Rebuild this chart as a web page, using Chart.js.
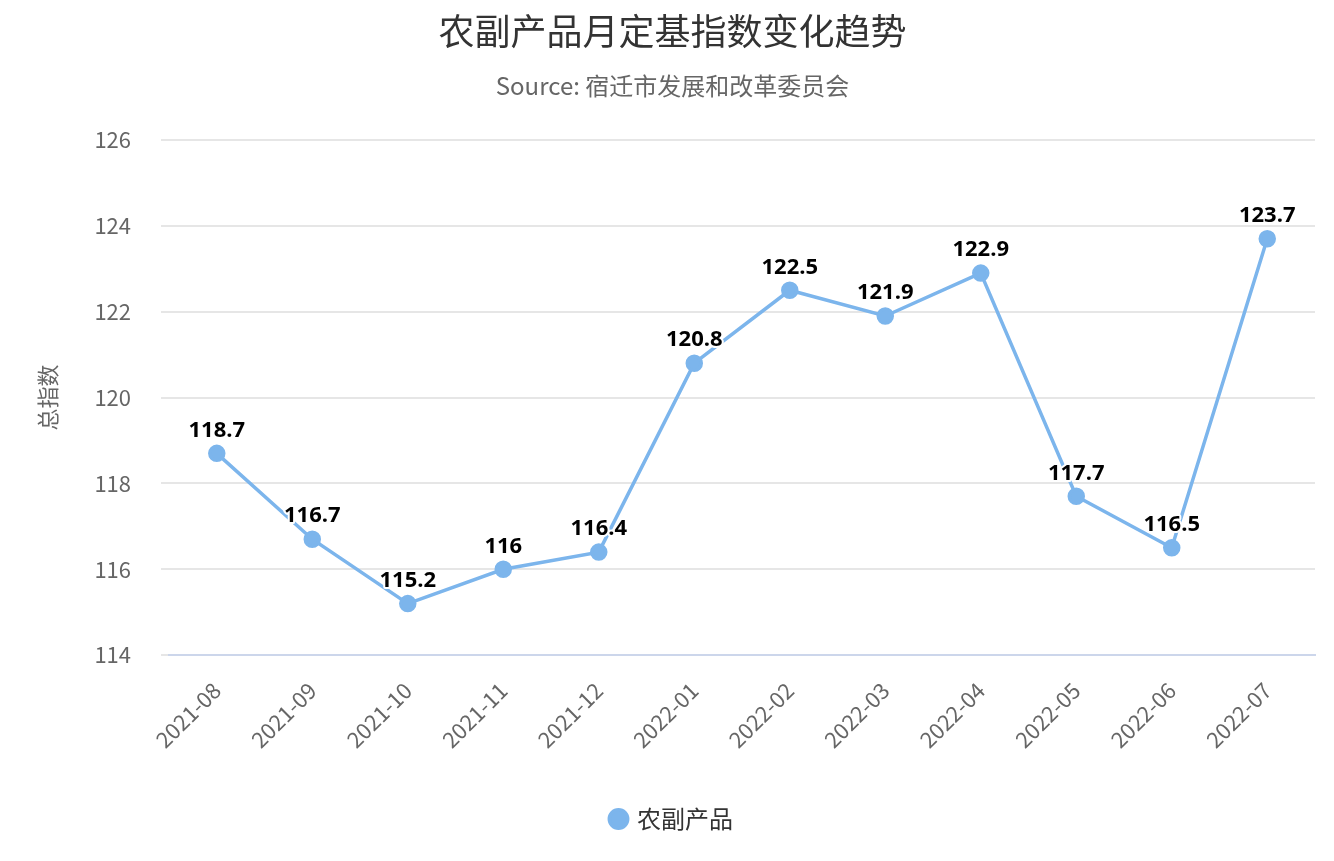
<!DOCTYPE html>
<html><head><meta charset="utf-8">
<script src="https://cdn.jsdelivr.net/npm/chart.js@4"></script>
<style>html,body{margin:0;padding:0;background:#fff}#w{width:1334px;height:861px}</style>
</head><body><div id="w"><canvas id="c"></canvas></div>
<script>
const categories=["2021-08","2021-09","2021-10","2021-11","2021-12","2022-01","2022-02","2022-03","2022-04","2022-05","2022-06","2022-07"];
const values=[118.7,116.7,115.2,116,116.4,120.8,122.5,121.9,122.9,117.7,116.5,123.7];
const yTicks=[114,116,118,120,122,124,126];
const F="'Noto Sans CJK SC','Noto Sans',sans-serif";
const labelPlugin={id:'lbl',afterDatasetsDraw(ch){const ctx=ch.ctx;const m=ch.getDatasetMeta(0);ctx.save();ctx.font="bold 22px 'Open Sans',"+F;ctx.fillStyle="#000";ctx.textAlign="center";ctx.textBaseline="bottom";ctx.lineWidth=4;ctx.strokeStyle="#fff";ctx.lineJoin="round";m.data.forEach((p,i)=>{const t=String(values[i]);ctx.strokeText(t,p.x,p.y-12);ctx.fillText(t,p.x,p.y-12);});ctx.restore();}};
new Chart(document.getElementById('c'),{type:'line',data:{labels:categories,datasets:[{label:'农副产品',data:values,borderColor:'#7cb5ec',backgroundColor:'#7cb5ec',borderWidth:3.5,pointRadius:7,pointHoverRadius:7,tension:0}]},
options:{responsive:true,maintainAspectRatio:false,animation:false,layout:{padding:{left:30,right:19,top:0,bottom:20}},
plugins:{title:{display:true,text:'农副产品月定基指数变化趋势',color:'#333',font:{family:F,size:36,weight:'normal'},padding:{top:10,bottom:18}},
subtitle:{display:true,text:'Source: 宿迁市发展和改革委员会',color:'#666',font:{family:F,size:24},padding:{bottom:40}},
legend:{position:'bottom',labels:{usePointStyle:true,pointStyle:'circle',boxWidth:13,boxHeight:13,color:'#333',font:{family:F,size:24},padding:40}},tooltip:{enabled:false}},
scales:{x:{offset:true,grid:{display:false},border:{color:'#ccd6eb',width:2},ticks:{color:'#666',font:{family:F,size:22},maxRotation:45,minRotation:45,padding:14}},
y:{min:114,max:126,afterBuildTicks(a){a.ticks=yTicks.map(v=>({value:v}));},grid:{color:'#e6e6e6',lineWidth:2},border:{display:false},ticks:{color:'#666',font:{family:F,size:22},padding:30},title:{display:true,text:'总指数',color:'#666',font:{family:F,size:22}}}}},
plugins:[labelPlugin]});
</script></body></html>
